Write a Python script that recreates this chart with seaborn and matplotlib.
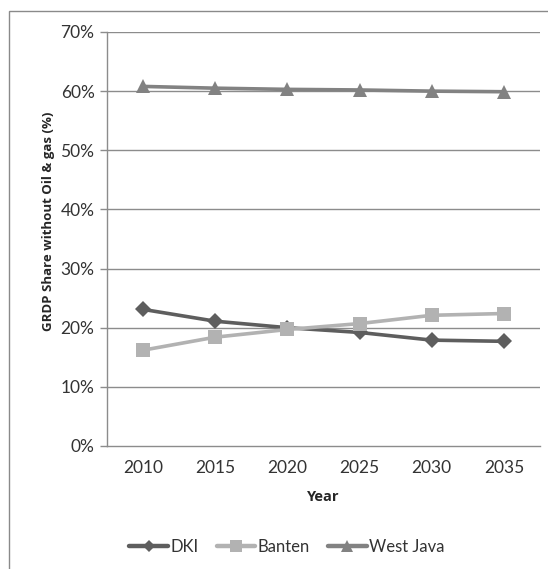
import matplotlib
matplotlib.use("Agg")
import matplotlib.pyplot as plt
from matplotlib.patches import Rectangle
from matplotlib.ticker import FixedLocator, PercentFormatter
import numpy as np
import pandas as pd
import seaborn as sns

years = [2010, 2015, 2020, 2025, 2030, 2035]
dki = [23.1, 21.1, 20.0, 19.2, 17.9, 17.7]
banten = [16.2, 18.4, 19.7, 20.7, 22.1, 22.4]
west_java = [60.8, 60.5, 60.3, 60.2, 60.0, 59.9]

series_names = ["DKI", "Banten", "West Java"]
series_colors = {"DKI": "#5e5e5e", "Banten": "#b2b2b2", "West Java": "#828282"}
series_markers = {"DKI": "D", "Banten": "s", "West Java": "^"}
series_msize = {"DKI": 8, "Banten": 10, "West Java": 10}

pos = np.arange(len(years))
df = pd.concat([
    pd.DataFrame({"pos": pos, "share": vals, "region": name})
    for name, vals in zip(series_names, [dki, banten, west_java])
], ignore_index=True)

sns.set_style("white")
plt.rcParams["font.family"] = ["Lato", "DejaVu Sans"]

W, H = 548, 569
fig = plt.figure(figsize=(W / 100, H / 100), dpi=100)
ax = fig.add_axes([107 / W, 1 - 446 / H, (540 - 107) / W, (446 - 32) / H])

# outer chart frame
fig.patches.append(Rectangle((9 / W, -0.1), 1.2, 1 - 11 / H + 0.1,
                             transform=fig.transFigure, fill=False,
                             edgecolor="#8a8a8a", linewidth=1.0))

for yv in range(10, 80, 10):
    ax.axhline(yv, color="#8c8c8c", linewidth=1.0, zorder=0)

for name in series_names:
    sub = df[df["region"] == name]
    sns.lineplot(data=sub, x="pos", y="share", ax=ax, color=series_colors[name],
                 marker=series_markers[name], markersize=series_msize[name],
                 markeredgewidth=0, linewidth=2.6, label=name, zorder=3)

ax.set_xlim(-0.5, len(years) - 0.5)
ax.set_ylim(0, 70)
ax.yaxis.set_major_locator(FixedLocator(range(0, 80, 10)))
ax.yaxis.set_major_formatter(PercentFormatter(decimals=0))
ax.set_xticks(pos)
ax.set_xticklabels([str(y) for y in years])
ax.xaxis.set_minor_locator(FixedLocator(np.arange(-0.5, len(years), 1.0)))
ax.tick_params(axis="x", which="major", length=0, pad=10, labelsize=12.5, colors="#333333")
ax.tick_params(axis="x", which="minor", length=5, width=1.0, color="#8c8c8c")
ax.tick_params(axis="y", which="major", length=5, width=1.0, color="#8c8c8c",
               pad=4, labelsize=12.5, labelcolor="#333333", left=True)

for s in ["top", "right"]:
    ax.spines[s].set_visible(False)
for s in ["left", "bottom"]:
    ax.spines[s].set_color("#8c8c8c")
    ax.spines[s].set_linewidth(1.0)

ax.set_xlabel("Year", fontsize=10.5, fontweight="bold", family=["Open Sans", "DejaVu Sans"],
              labelpad=10)
ax.set_ylabel("GRDP Share without Oil & gas (%)", fontsize=9.5, fontweight="bold",
              family=["Open Sans", "DejaVu Sans"])
ax.yaxis.set_label_coords(-0.12, 0.543)

leg = ax.legend(loc="center", bbox_to_anchor=(287 / W, 1 - 547 / H),
                bbox_transform=fig.transFigure, ncol=3, frameon=False,
                fontsize=12, handlelength=2.3, handletextpad=0.15, columnspacing=1.1)
for t in leg.get_texts():
    t.set_color("#333333")
for h in leg.legend_handles:
    h.set_linewidth(3.2)
    h.set_markersize(h.get_markersize() * 0.8)

fig.savefig("out.png", dpi=100, facecolor="white")
